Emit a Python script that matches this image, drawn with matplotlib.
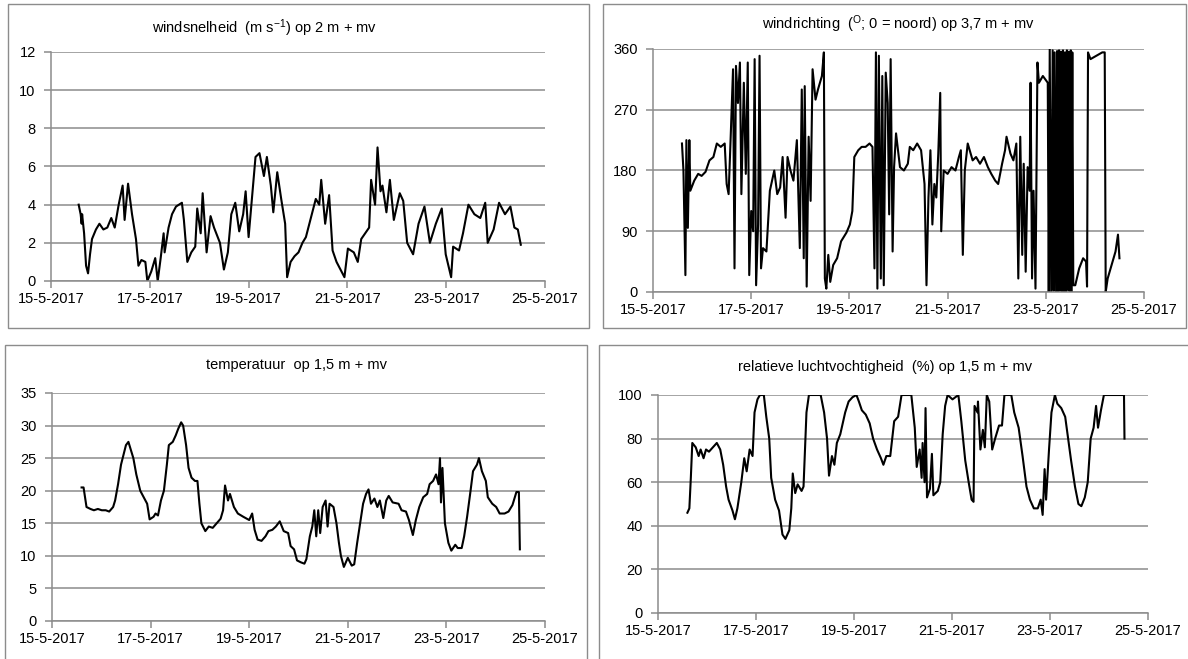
import numpy as np
import pandas as pd
import matplotlib
matplotlib.use("Agg")
import matplotlib.pyplot as plt
from matplotlib.patches import Rectangle

plt.rcParams['font.family'] = ['Liberation Sans', 'DejaVu Sans']
plt.rcParams['mathtext.fontset'] = 'custom'
plt.rcParams['mathtext.rm'] = 'Liberation Sans'
plt.rcParams['mathtext.it'] = 'Liberation Sans:italic'

START = pd.Timestamp("2017-05-15")
tick_days = [0, 2, 4, 6, 8, 10]
tick_labels = ["15-5-2017", "17-5-2017", "19-5-2017", "21-5-2017", "23-5-2017", "25-5-2017"]

# windsnelheid (m/s), time in days since 15-5-2017 00:00
wind_days = [0.56, 0.60, 0.62, 0.63, 0.67, 0.71, 0.75, 0.79, 0.83, 0.91, 0.98, 1.06, 1.14, 1.22, 1.29,
             1.37, 1.45, 1.49, 1.56, 1.64, 1.72, 1.77, 1.83, 1.91, 1.95, 2.03, 2.11, 2.16, 2.22, 2.28,
             2.30, 2.38, 2.45, 2.53, 2.65, 2.69, 2.76, 2.84, 2.92, 2.96, 3.03, 3.07, 3.15, 3.23, 3.30,
             3.42, 3.50, 3.58, 3.65, 3.73, 3.81, 3.89, 3.94, 4.00, 4.06, 4.14, 4.22, 4.31, 4.37, 4.45,
             4.50, 4.58, 4.66, 4.74, 4.78, 4.85, 4.93, 5.01, 5.09, 5.16, 5.28, 5.36, 5.43, 5.47, 5.55,
             5.63, 5.70, 5.78, 5.86, 5.94, 6.01, 6.13, 6.21, 6.28, 6.36, 6.44, 6.48, 6.56, 6.61, 6.67,
             6.71, 6.79, 6.86, 6.94, 7.06, 7.13, 7.21, 7.33, 7.44, 7.56, 7.67, 7.79, 7.91, 7.99, 8.10,
             8.14, 8.26, 8.34, 8.45, 8.57, 8.69, 8.79, 8.84, 8.96, 9.07, 9.19, 9.30, 9.38, 9.45, 9.51]
wind_speed = [4.0, 3.5, 3.0, 3.5, 2.5, 0.8, 0.4, 1.4, 2.2, 2.7, 3.0, 2.7, 2.8, 3.3, 2.8,
              4.0, 5.0, 3.2, 5.1, 3.5, 2.2, 0.8, 1.1, 1.0, 0.0, 0.5, 1.2, 0.0, 1.2, 2.5,
              1.5, 2.8, 3.5, 3.9, 4.1, 3.2, 1.0, 1.5, 1.8, 3.8, 2.5, 4.6, 1.5, 3.4, 2.8,
              2.0, 0.6, 1.5, 3.5, 4.1, 2.6, 3.5, 4.7, 2.3, 4.1, 6.5, 6.7, 5.5, 6.5, 5.0,
              3.6, 5.7, 4.3, 3.0, 0.2, 1.0, 1.3, 1.5, 2.0, 2.3, 3.5, 4.3, 4.0, 5.3, 3.0,
              4.5, 1.6, 1.0, 0.6, 0.2, 1.7, 1.5, 1.0, 2.2, 2.5, 2.8, 5.3, 4.0, 7.0, 4.7,
              5.0, 3.6, 5.3, 3.2, 4.6, 4.2, 2.0, 1.4, 3.0, 3.9, 2.0, 3.0, 3.8, 1.4, 0.2,
              1.8, 1.6, 2.5, 4.0, 3.5, 3.3, 4.1, 2.0, 2.7, 4.1, 3.5, 3.9, 2.8, 2.7, 1.9]

# windrichting (graden)
dir_days = [0.59, 0.62, 0.66, 0.68, 0.71, 0.74, 0.76, 0.84, 0.92, 0.99, 1.07, 1.15, 1.23, 1.30, 1.38,
            1.46, 1.50, 1.54, 1.58, 1.63, 1.66, 1.69, 1.73, 1.77, 1.80, 1.85, 1.89, 1.93, 1.96, 2.00,
            2.04, 2.07, 2.10, 2.14, 2.17, 2.20, 2.24, 2.31, 2.38, 2.47, 2.53, 2.59, 2.64, 2.70, 2.74,
            2.80, 2.86, 2.93, 2.99, 3.03, 3.07, 3.09, 3.13, 3.17, 3.21, 3.25, 3.31, 3.36, 3.44, 3.48,
            3.50, 3.53, 3.57, 3.61, 3.67, 3.75, 3.83, 3.94, 4.01, 4.06, 4.10, 4.18, 4.25, 4.33, 4.41,
            4.47, 4.51, 4.54, 4.57, 4.60, 4.64, 4.67, 4.70, 4.74, 4.78, 4.81, 4.84, 4.88, 4.91, 4.95,
            5.03, 5.11, 5.19, 5.23, 5.30, 5.38, 5.46, 5.53, 5.57, 5.61, 5.65, 5.69, 5.73, 5.77, 5.81,
            5.85, 5.87, 5.92, 6.00, 6.08, 6.16, 6.23, 6.27, 6.31, 6.35, 6.41, 6.51, 6.58, 6.66, 6.74,
            6.82, 6.89, 6.97, 7.03, 7.11, 7.17, 7.20, 7.28, 7.34, 7.40, 7.44, 7.48, 7.52, 7.55, 7.59,
            7.63, 7.67, 7.69, 7.72, 7.75, 7.79, 7.83, 7.86, 7.94, 8.04, 8.06, 8.08, 8.11, 8.14, 8.16,
            8.18, 8.21, 8.23, 8.25, 8.27, 8.29, 8.31, 8.33, 8.35, 8.37, 8.39, 8.41, 8.43, 8.45, 8.47,
            8.49, 8.51, 8.52, 8.54, 8.56, 8.60, 8.68, 8.76, 8.82, 8.84, 8.86, 8.91, 9.03, 9.15, 9.20,
            9.22, 9.26, 9.34, 9.42, 9.47, 9.50]
wind_dir = [220, 180, 25, 225, 95, 225, 150, 165, 175, 172, 178, 195, 200, 220, 215,
            220, 160, 145, 225, 330, 35, 335, 280, 340, 145, 310, 175, 340, 25, 120,
            90, 345, 10, 100, 350, 35, 65, 60, 150, 180, 145, 155, 200, 110, 200,
            180, 165, 225, 65, 300, 50, 305, 8, 230, 135, 330, 285, 300, 320, 355,
            20, 5, 55, 15, 40, 50, 75, 88, 100, 120, 200, 210, 215, 215, 220,
            215, 35, 355, 5, 350, 20, 320, 10, 325, 280, 115, 345, 60, 185, 235,
            185, 180, 190, 215, 210, 220, 210, 160, 10, 140, 210, 100, 160, 140, 205,
            295, 90, 180, 175, 185, 180, 200, 210, 55, 180, 220, 195, 200, 190, 200,
            185, 175, 165, 160, 190, 210, 230, 205, 195, 220, 20, 230, 55, 190, 30,
            185, 150, 310, 20, 150, 5, 340, 310, 320, 310, 0, 360, 0, 358, 2,
            355, 0, 357, 0, 358, 2, 356, 0, 358, 0, 355, 0, 358, 3, 356,
            0, 358, 0, 355, 10, 10, 35, 50, 45, 8, 355, 345, 350, 355, 355,
            0, 20, 40, 60, 85, 50]

# temperatuur (graden C)
temp_days = [0.60, 0.64, 0.70, 0.78, 0.85, 0.93, 1.01, 1.09, 1.16, 1.24, 1.28, 1.34, 1.40, 1.45, 1.50,
             1.55, 1.59, 1.65, 1.71, 1.79, 1.86, 1.93, 1.98, 2.06, 2.10, 2.15, 2.21, 2.27, 2.33, 2.37,
             2.45, 2.51, 2.56, 2.62, 2.66, 2.72, 2.77, 2.83, 2.90, 2.95, 2.99, 3.03, 3.11, 3.18, 3.26,
             3.34, 3.42, 3.47, 3.51, 3.57, 3.61, 3.69, 3.77, 3.88, 4.00, 4.06, 4.11, 4.17, 4.25, 4.33,
             4.39, 4.47, 4.54, 4.62, 4.70, 4.79, 4.84, 4.91, 4.97, 5.05, 5.12, 5.16, 5.23, 5.28, 5.32,
             5.36, 5.40, 5.44, 5.49, 5.55, 5.59, 5.63, 5.71, 5.77, 5.82, 5.86, 5.92, 6.00, 6.08, 6.13,
             6.19, 6.25, 6.31, 6.37, 6.42, 6.47, 6.54, 6.60, 6.65, 6.72, 6.78, 6.83, 6.91, 7.03, 7.09,
             7.18, 7.24, 7.32, 7.38, 7.45, 7.53, 7.61, 7.66, 7.73, 7.79, 7.84, 7.87, 7.89, 7.92, 7.94,
             7.97, 8.04, 8.10, 8.18, 8.23, 8.31, 8.36, 8.42, 8.49, 8.54, 8.62, 8.66, 8.72, 8.80, 8.84,
             8.93, 9.01, 9.08, 9.18, 9.26, 9.34, 9.42, 9.47, 9.49]
temperature = [20.5, 20.5, 17.5, 17.2, 17.0, 17.2, 17.0, 17.0, 16.8, 17.5, 18.5, 21.0, 24.0, 25.5, 27.0,
               27.5, 26.5, 25.0, 22.5, 20.0, 19.0, 18.0, 15.6, 16.0, 16.5, 16.2, 18.5, 20.0, 24.0, 27.0,
               27.5, 28.5, 29.5, 30.5, 30.0, 27.0, 23.5, 22.0, 21.5, 21.5, 18.0, 15.0, 13.8, 14.5, 14.3,
               15.0, 15.7, 17.0, 20.8, 18.5, 19.5, 17.5, 16.5, 16.0, 15.5, 16.5, 14.0, 12.5, 12.3, 13.0,
               13.8, 14.0, 14.5, 15.3, 13.8, 13.5, 11.5, 11.0, 9.3, 9.0, 8.8, 9.5, 13.0, 14.5, 17.0,
               13.0, 17.0, 13.5, 17.5, 18.5, 14.5, 18.0, 17.5, 15.0, 12.0, 10.0, 8.3, 9.7, 8.5, 8.7,
               12.0, 15.0, 18.0, 19.5, 20.2, 18.0, 18.8, 17.5, 18.5, 15.8, 18.5, 19.2, 18.2, 18.0, 17.0,
               16.8, 15.5, 13.2, 15.5, 17.5, 19.0, 19.5, 21.0, 21.5, 22.5, 21.0, 25.0, 18.2, 23.5, 20.0,
               15.0, 12.0, 10.8, 11.7, 11.2, 11.2, 13.0, 16.0, 20.0, 23.0, 24.0, 25.0, 23.0, 21.5, 19.0,
               18.0, 17.5, 16.5, 16.5, 16.8, 17.8, 19.8, 19.8, 11.0]

# relatieve luchtvochtigheid (%)
rh_days = [0.60, 0.64, 0.67, 0.70, 0.77, 0.83, 0.87, 0.93, 0.98, 1.04, 1.12, 1.20, 1.27, 1.33, 1.39,
           1.44, 1.52, 1.57, 1.62, 1.70, 1.76, 1.81, 1.87, 1.93, 1.97, 2.03, 2.08, 2.16, 2.21, 2.27,
           2.31, 2.39, 2.47, 2.54, 2.60, 2.68, 2.72, 2.75, 2.80, 2.85, 2.93, 2.97, 3.03, 3.08, 3.32,
           3.39, 3.45, 3.49, 3.55, 3.60, 3.65, 3.72, 3.82, 3.89, 3.97, 4.05, 4.10, 4.16, 4.24, 4.32,
           4.39, 4.47, 4.55, 4.60, 4.66, 4.74, 4.82, 4.90, 4.97, 5.17, 5.24, 5.28, 5.34, 5.38, 5.40,
           5.44, 5.46, 5.49, 5.55, 5.59, 5.62, 5.71, 5.76, 5.81, 5.86, 5.91, 6.01, 6.13, 6.19, 6.27,
           6.34, 6.40, 6.44, 6.46, 6.52, 6.53, 6.58, 6.63, 6.67, 6.71, 6.76, 6.82, 6.88, 6.96, 7.02,
           7.07, 7.21, 7.27, 7.36, 7.44, 7.52, 7.59, 7.67, 7.75, 7.81, 7.85, 7.89, 7.92, 7.98, 8.03,
           8.10, 8.15, 8.23, 8.31, 8.37, 8.43, 8.51, 8.58, 8.64, 8.71, 8.77, 8.83, 8.89, 8.94, 8.98,
           9.04, 9.10, 9.51, 9.52]
humidity = [46, 48, 62, 78, 76, 72, 75, 71, 75, 74, 76, 78, 75, 68, 58,
            52, 47, 43, 48, 60, 71, 65, 75, 72, 92, 98, 100, 100, 90, 80,
            62, 52, 47, 36, 34, 38, 48, 64, 55, 59, 56, 58, 92, 100, 100,
            92, 80, 63, 72, 68, 78, 82, 92, 97, 99, 100, 97, 93, 91, 87,
            80, 75, 71, 68, 72, 72, 88, 90, 100, 100, 85, 67, 75, 62, 78,
            60, 94, 53, 57, 73, 54, 56, 60, 82, 95, 100, 98, 100, 88, 70,
            60, 52, 51, 95, 92, 97, 75, 84, 76, 100, 97, 75, 80, 86, 86,
            100, 100, 92, 85, 72, 58, 52, 48, 48, 52, 45, 66, 52, 75, 92,
            100, 96, 94, 90, 80, 70, 58, 50, 49, 53, 60, 80, 85, 95, 85,
            93, 100, 100, 80]

GRID = "#8c8c8c"
W, H = 1188, 659


def px_rect(x0, y0, x1, y1):
    # pixel box (top-left origin) -> figure fraction rect
    return [x0 / W, 1 - y1 / H, (x1 - x0) / W, (y1 - y0) / H]


def to_time(days):
    return START + pd.to_timedelta(np.asarray(days), unit="D")


def draw_panel(fig, rect, days, values, yticks, title, title_xy, box):
    fig.add_artist(Rectangle((box[0], box[1]), box[2], box[3], transform=fig.transFigure,
                             fill=False, edgecolor="#8c8c8c", linewidth=1.0))
    ax = fig.add_axes(rect)
    ax.plot(to_time(days), values, color="black", linewidth=1.5)
    ax.set_xlim(to_time([0])[0], to_time([10])[0])
    ax.set_xticks(to_time(tick_days))
    ax.set_xticklabels(tick_labels)
    ax.set_ylim(yticks[0], yticks[-1])
    ax.set_yticks(yticks)
    ax.grid(axis="y", color=GRID, linewidth=1.1)
    for s in ["top", "right"]:
        ax.spines[s].set_visible(False)
    for s in ["left", "bottom"]:
        ax.spines[s].set_color(GRID)
        ax.spines[s].set_linewidth(1.1)
    ax.tick_params(axis="both", colors=GRID, labelcolor="black", labelsize=10.5,
                   length=5, width=1.1, direction="out")
    ax.tick_params(axis="x", pad=3)
    ax.tick_params(axis="y", pad=6)
    fig.text(title_xy[0] / W, 1 - title_xy[1] / H, title, ha="center", va="center", fontsize=10.5)
    return ax


fig = plt.figure(figsize=(11.88, 6.59), dpi=100)

draw_panel(fig, px_rect(51, 52, 545, 281), wind_days, wind_speed, [0, 2, 4, 6, 8, 10, 12],
           r"windsnelheid  (m s$^{-1}$) op 2 m + mv", (265, 28),
           [8 / W, 1 - 328 / H, 581 / W, 324 / H])
draw_panel(fig, px_rect(653, 49, 1144, 292), dir_days, wind_dir, [0, 90, 180, 270, 360],
           r"windrichting  ($^{\mathrm{O}}$; 0 = noord) op 3,7 m + mv", (899, 24),
           [603 / W, 1 - 328 / H, 583 / W, 324 / H])
draw_panel(fig, px_rect(52, 393, 545, 621), temp_days, temperature, [0, 5, 10, 15, 20, 25, 30, 35],
           "temperatuur  op 1,5 m + mv", (296, 365),
           [5 / W, 1 - 662 / H, 582 / W, 317 / H])
draw_panel(fig, px_rect(658, 395, 1148, 613), rh_days, humidity, [0, 20, 40, 60, 80, 100],
           "relatieve luchtvochtigheid  (%) op 1,5 m + mv", (885, 367),
           [599 / W, 1 - 662 / H, 600 / W, 317 / H])

fig.savefig("out.png", dpi=100, facecolor="white")
